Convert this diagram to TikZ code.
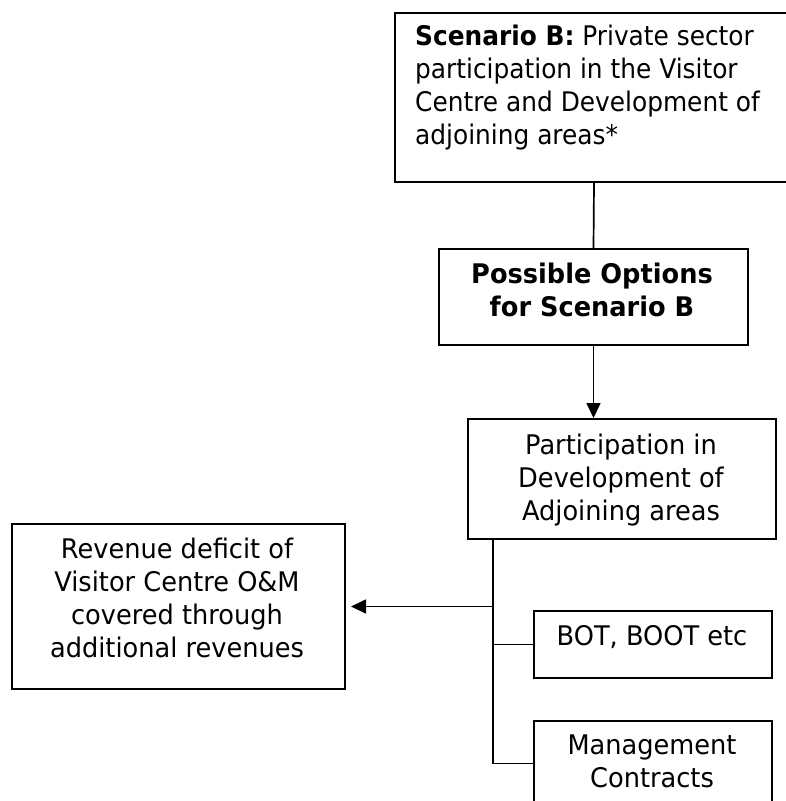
\documentclass[tikz,border=0pt]{standalone}
\usepackage{fontspec}
\setmainfont{DejaVu Sans}[FakeStretch=0.95]
\newfontfamily\narrowfont{DejaVu Sans}[FakeStretch=0.92]
\usetikzlibrary{arrows.meta}
\begin{document}
\begin{tikzpicture}[x=1pt,y=-1pt,
  box/.style={draw, line width=2pt, inner sep=0pt, anchor=north west},
  txt/.style={inner sep=0pt, anchor=base, align=center, font=\fontsize{27}{33}\selectfont},
  link/.style={line width=1.7pt},
  arr/.style={line width=1.7pt, -{Triangle[length=15pt,width=14pt]}}]
\useasboundingbox (0,0) rectangle (786,801);
% boxes
\node[box, minimum width=398pt, minimum height=169pt] (scen) at (394,12) {};
\node[box, minimum width=309pt, minimum height=96pt] (opt) at (438,248) {};
\node[box, minimum width=308pt, minimum height=120pt] (part) at (467,418) {};
\node[box, minimum width=333pt, minimum height=165pt] (rev) at (11,523) {};
\node[box, minimum width=238pt, minimum height=67pt] (bot) at (533,610) {};
\node[box, minimum width=238pt, minimum height=85pt] (mgmt) at (533,720) {};
% texts (anchored at the baseline of their last line)
\node[txt, anchor=base west, align=left, font=\fontsize{27}{33}\narrowfont] (scent) at (415,144)
  {\textbf{Scenario B:} Private sector\\participation in the Visitor\\Centre and Development of\\adjoining areas*};
\node[txt, font=\fontsize{27}{33}\selectfont\bfseries] (optt) at (592,316) {Possible Options\\for Scenario B};
\node[txt] (partt) at (621,520) {Participation in\\Development of\\Adjoining areas};
\node[txt] (revt) at (177,657) {Revenue deficit of\\Visitor Centre O\&M\\covered through\\additional revenues};
\node[txt] (bott) at (652,645) {BOT, BOOT etc};
\node[txt] (mgmtt) at (652,787) {Management\\Contracts};
% connectors
\coordinate (spine) at (493,538);
\draw[link] (scen.south) -- (opt.north);
\draw[arr] (opt.south) -- (opt.south |- part.north);
\draw[link] (spine) -- (spine |- mgmt.west);
\draw[arr, shorten >=5pt] (spine |- rev.east) -- (rev.east);
\draw[link] (spine |- bot.west) -- (bot.west);
\draw[link] (spine |- mgmt.west) -- (mgmt.west);
\end{tikzpicture}
\end{document}
